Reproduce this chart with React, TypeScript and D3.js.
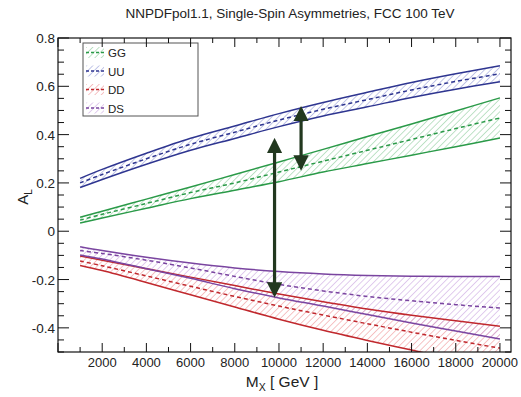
import React from 'react';
import * as d3 from 'd3';

// invariant-mass points (GeV)
const masses = [1000, 2000, 4000, 6000, 8000, 10000, 12000, 14000, 16000, 18000, 20000];

const ggCentral = [0.046, 0.07, 0.115, 0.16, 0.2, 0.245, 0.29, 0.335, 0.38, 0.425, 0.469];
const ggUpper = [0.058, 0.083, 0.133, 0.183, 0.235, 0.287, 0.339, 0.392, 0.444, 0.498, 0.552];
const ggLower = [0.034, 0.055, 0.095, 0.135, 0.17, 0.205, 0.245, 0.28, 0.315, 0.35, 0.386];

const uuCentral = [0.2, 0.235, 0.3, 0.36, 0.41, 0.46, 0.505, 0.545, 0.585, 0.62, 0.652];
const uuUpper = [0.219, 0.256, 0.323, 0.385, 0.436, 0.487, 0.533, 0.575, 0.616, 0.652, 0.685];
const uuLower = [0.181, 0.214, 0.277, 0.335, 0.384, 0.433, 0.477, 0.515, 0.554, 0.588, 0.619];

const ddCentral = [-0.123, -0.143, -0.185, -0.228, -0.27, -0.31, -0.347, -0.383, -0.418, -0.452, -0.484];
const ddUpper = [-0.103, -0.12, -0.155, -0.19, -0.225, -0.26, -0.292, -0.322, -0.348, -0.371, -0.393];
const ddLower = [-0.142, -0.163, -0.212, -0.263, -0.314, -0.364, -0.41, -0.452, -0.492, -0.532, -0.57];

const dsCentral = [-0.08, -0.092, -0.12, -0.152, -0.187, -0.22, -0.247, -0.27, -0.288, -0.304, -0.318];
const dsUpper = [-0.064, -0.08, -0.108, -0.132, -0.152, -0.167, -0.177, -0.183, -0.186, -0.187, -0.187];
const dsLower = [-0.098, -0.115, -0.155, -0.195, -0.238, -0.276, -0.31, -0.345, -0.38, -0.413, -0.446];

// double-headed arrows: [mass, from, to]
const arrows = [
  [11000, 0.514, 0.255],
  [9800, 0.382, -0.27],
];

const xTicks = [2000, 4000, 6000, 8000, 10000, 12000, 14000, 16000, 18000, 20000];
const yTicks = [0.8, 0.6, 0.4, 0.2, 0, -0.2, -0.4];

const series = [
  { name: 'GG', central: ggCentral, upper: ggUpper, lower: ggLower, color: '#2a9a48', hatch: '#8ccc9b' },
  { name: 'UU', central: uuCentral, upper: uuUpper, lower: uuLower, color: '#2e3590', hatch: '#9197d6' },
  { name: 'DD', central: ddCentral, upper: ddUpper, lower: ddLower, color: '#c0282d', hatch: '#ee9296' },
  { name: 'DS', central: dsCentral, upper: dsUpper, lower: dsLower, color: '#7a45a0', hatch: '#c9a2e0' },
];

const App = () => {
  const width = 521;
  const height = 397;
  const margin = { top: 38, right: 10, bottom: 45, left: 58 };
  const font = '"Liberation Sans", Arial, Helvetica, sans-serif';
  const arrowColor = '#22381f';

  const xScale = d3
    .scaleLinear()
    .domain([0, 20500])
    .range([margin.left, width - margin.right]);
  const yScale = d3
    .scaleLinear()
    .domain([-0.5, 0.8])
    .range([height - margin.bottom, margin.top]);

  const x0 = margin.left;
  const x1 = width - margin.right;
  const y0 = height - margin.bottom;
  const y1 = margin.top;

  const line = (vals: number[]) =>
    d3
      .line<number>()
      .x((_, i) => xScale(masses[i]))
      .y(d => yScale(d))
      .curve(d3.curveCatmullRom.alpha(0.5))(vals);

  const area = (lo: number[], hi: number[]) =>
    d3
      .area<number>()
      .x((_, i) => xScale(masses[i]))
      .y0((_, i) => yScale(lo[i]))
      .y1(d => yScale(d))
      .curve(d3.curveCatmullRom.alpha(0.5))(hi);

  const xMinor = d3.range(0, 20001, 1000);
  const yMinor = d3.range(-0.5, 0.8001, 0.05);

  return (
    <div style={{ position: 'absolute', left: 0, top: 0 }}>
      <svg width={width} height={height} viewBox={`0 0 ${width} ${height}`} style={{ display: 'block' }}>
        <defs>
          {series.map(s => (
            <pattern
              key={`pat-${s.name}`}
              id={`hatch-${s.name}`}
              width='4.5'
              height='4.5'
              patternUnits='userSpaceOnUse'
              patternTransform='rotate(45)'
            >
              <line x1='0' y1='0' x2='0' y2='4.5' stroke={s.hatch} strokeWidth='1.1' />
            </pattern>
          ))}
          <clipPath id='plotClip'>
            <rect x={x0} y={y1} width={x1 - x0} height={y0 - y1} />
          </clipPath>
          <marker
            id='arrowHead'
            viewBox='0 0 10 10'
            refX='8'
            refY='5'
            markerWidth='4.8'
            markerHeight='4.8'
            orient='auto-start-reverse'
          >
            <path d='M0,0 L10,5 L0,10 z' fill={arrowColor} />
          </marker>
        </defs>

        <text x={290} y={18} textAnchor='middle' fontFamily={font} fontSize='13.5' fill='#222'>
          NNPDFpol1.1, Single-Spin Asymmetries, FCC 100 TeV
        </text>

        <g clipPath='url(#plotClip)'>
          {series.map(s => (
            <path key={`area-${s.name}`} d={area(s.lower, s.upper) || ''} fill={`url(#hatch-${s.name})`} />
          ))}
          {series.map(s => (
            <g key={`lines-${s.name}`}>
              <path d={line(s.upper) || ''} fill='none' stroke={s.color} strokeWidth='1.5' />
              <path d={line(s.lower) || ''} fill='none' stroke={s.color} strokeWidth='1.5' />
              <path d={line(s.central) || ''} fill='none' stroke={s.color} strokeWidth='1.5' strokeDasharray='4,3' />
            </g>
          ))}
        </g>

        {arrows.map((a, i) => (
          <line
            key={`arrow-${i}`}
            x1={xScale(a[0])}
            x2={xScale(a[0])}
            y1={yScale(a[1]) + 2}
            y2={yScale(a[2]) - 2}
            stroke={arrowColor}
            strokeWidth='3.2'
            markerStart='url(#arrowHead)'
            markerEnd='url(#arrowHead)'
          />
        ))}

        {/* legend */}
        <g>
          <rect x={83} y={43} width={115} height={73} fill='white' stroke='#555' strokeWidth='1' />
          {series.map((s, i) => (
            <g key={`leg-${s.name}`} transform={`translate(86, ${47 + i * 18.5})`}>
              <rect x={0} y={0} width={18} height={11} fill={`url(#hatch-${s.name})`} />
              <line x1={0} x2={18} y1={5.5} y2={5.5} stroke={s.color} strokeWidth='1.5' strokeDasharray='3,2' />
              <text x={22} y={10} fontFamily={font} fontSize='11.5' fill='#222'>
                {s.name}
              </text>
            </g>
          ))}
        </g>

        {/* frame and ticks */}
        <rect x={x0} y={y1} width={x1 - x0} height={y0 - y1} fill='none' stroke='#111' strokeWidth='1.2' />
        {xMinor.map(t => {
          const len = t % 2000 === 0 ? 9 : 5;
          return (
            <g key={`xt-${t}`}>
              <line x1={xScale(t)} x2={xScale(t)} y1={y0} y2={y0 - len} stroke='#111' strokeWidth='1' />
              <line x1={xScale(t)} x2={xScale(t)} y1={y1} y2={y1 + len} stroke='#111' strokeWidth='1' />
            </g>
          );
        })}
        {yMinor.map(t => {
          const major = Math.abs(Math.round(t * 5) - t * 5) < 1e-6;
          const len = major ? 11 : 6;
          return (
            <g key={`yt-${t.toFixed(2)}`}>
              <line x1={x0} x2={x0 + len} y1={yScale(t)} y2={yScale(t)} stroke='#111' strokeWidth='1' />
              <line x1={x1} x2={x1 - len} y1={yScale(t)} y2={yScale(t)} stroke='#111' strokeWidth='1' />
            </g>
          );
        })}
        {xTicks.map(t => (
          <text key={`xl-${t}`} x={xScale(t)} y={y0 + 15} textAnchor='middle' fontFamily={font} fontSize='13' fill='#222'>
            {t}
          </text>
        ))}
        {yTicks.map(t => (
          <text
            key={`yl-${t}`}
            x={x0 - 3}
            y={yScale(t) + 5}
            textAnchor='end'
            fontFamily={font}
            fontSize='13.5'
            fill='#222'
          >
            {t === 0 ? '0' : t.toFixed(1)}
          </text>
        ))}

        {/* axis titles */}
        <text x={282} y={387} textAnchor='middle' fontFamily={font} fontSize='15.5' fill='#222'>
          M<tspan fontSize='10.5' dy='4'>X</tspan>
          <tspan dy='-4'> [ GeV ]</tspan>
        </text>
        <text transform='translate(28, 197) rotate(-90)' textAnchor='middle' fontFamily={font} fontSize='15' fill='#222'>
          A<tspan fontSize='10' dy='4'>L</tspan>
        </text>
      </svg>
    </div>
  );
};

export default App;
